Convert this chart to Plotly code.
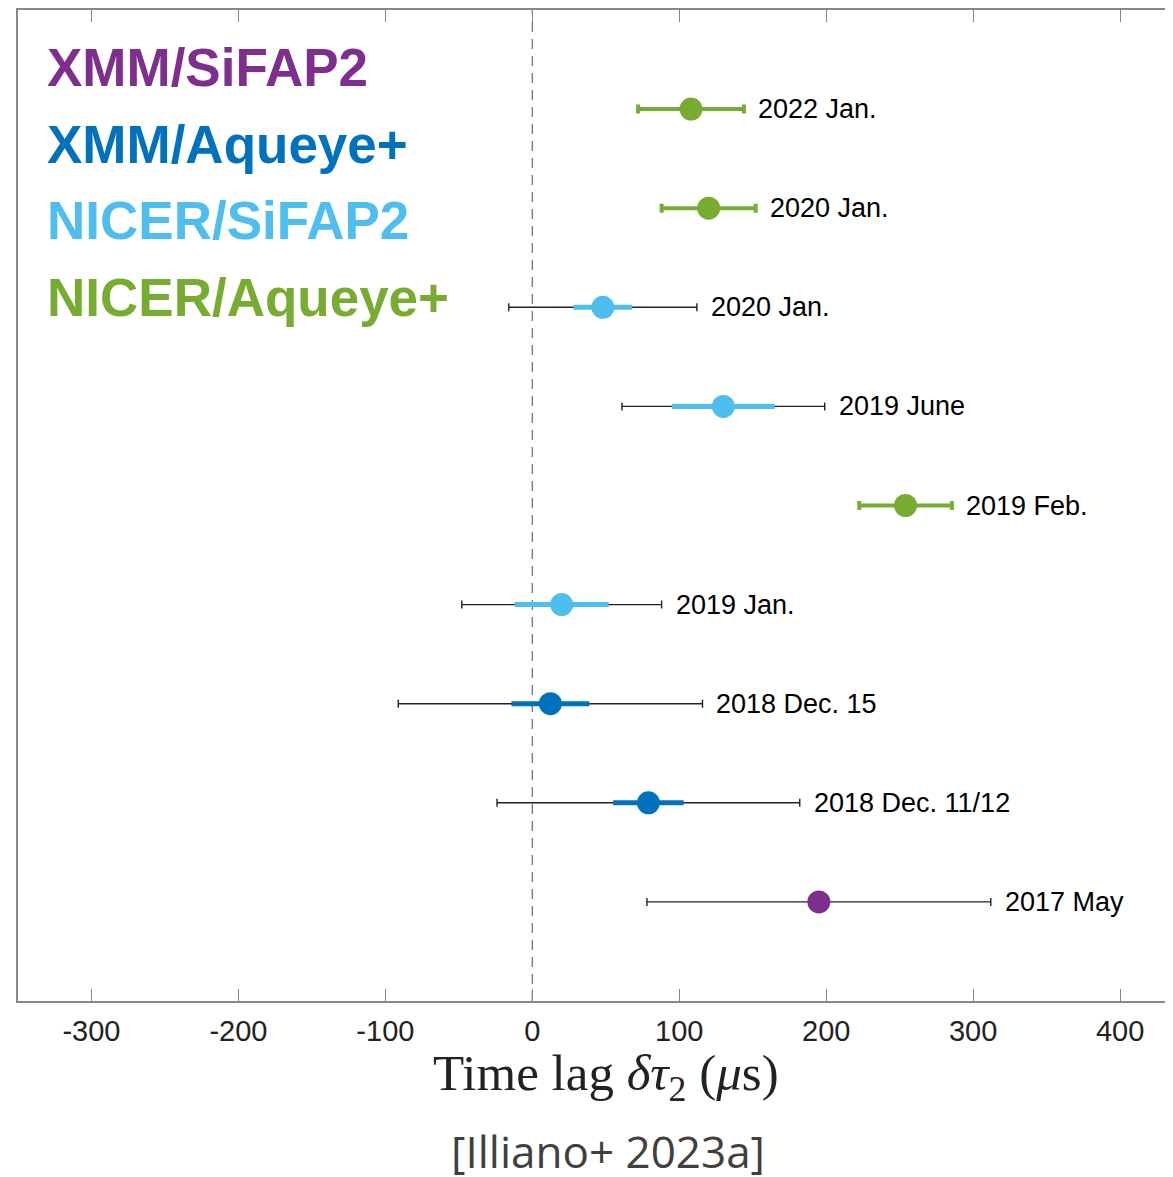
import plotly.graph_objects as go

# ---- data ----
labels = ["2017 May", "2018 Dec. 11/12", "2018 Dec. 15", "2019 Jan.", "2019 Feb.",
          "2019 June", "2020 Jan.", "2020 Jan.", "2022 Jan."]
instruments = ["XMM/SiFAP2", "XMM/Aqueye+", "XMM/Aqueye+", "NICER/SiFAP2", "NICER/Aqueye+",
               "NICER/SiFAP2", "NICER/SiFAP2", "NICER/Aqueye+", "NICER/Aqueye+"]
lag = [195, 79, 12.3, 20, 254, 130, 48, 120, 108]          # time lag (us)
err_inner = [None, 24, 26.5, 32, 31.5, 35, 20, 32, 36]      # coloured error bar
err_outer = [117, 103, 103.5, 68, None, 69, 64, None, None]  # black error bar
legend_names = ["XMM/SiFAP2", "XMM/Aqueye+", "NICER/SiFAP2", "NICER/Aqueye+"]
x_ticks = [-300, -200, -100, 0, 100, 200, 300, 400]

colors = {"XMM/SiFAP2": "#7E2F8E", "XMM/Aqueye+": "#0072BD",
          "NICER/SiFAP2": "#4DBEEE", "NICER/Aqueye+": "#77AC30"}
rows = list(range(1, len(labels) + 1))

# page has an 8px body margin; plot area spans screen x 18..1173, y 8..1001
PX0, PW, PY1, PH = 18.0, 1155.0, 1001.0, 993.0


def px(x):
    return (x - PX0) / PW


def py(y):
    return (PY1 - y) / PH


fig = go.Figure()

# black (outer) error bars
for r, x, eo in zip(rows, lag, err_outer):
    if eo is None:
        continue
    fig.add_trace(go.Scatter(
        x=[x], y=[r], mode="markers", marker=dict(size=1, opacity=0),
        error_x=dict(type="data", array=[eo], color="#222222", thickness=1.4, width=4),
        showlegend=False, hoverinfo="skip"))

# coloured (inner) error bars + markers
for r, x, ei, eo, inst in zip(rows, lag, err_inner, err_outer, instruments):
    c = colors[inst]
    if ei is not None:
        if eo is None:
            ex = dict(type="data", array=[ei], color=c, thickness=4, width=4.5)
        else:
            ex = dict(type="data", array=[ei], color=c, thickness=5, width=0)
    else:
        ex = None
    fig.add_trace(go.Scatter(
        x=[x], y=[r], mode="markers",
        marker=dict(size=23, color=c, line=dict(width=0)),
        error_x=ex, showlegend=False, hoverinfo="skip"))

# dashed zero line
fig.add_shape(type="line", x0=0, x1=0, y0=0, y1=1, xref="x", yref="paper",
              line=dict(color="#777777", width=1.3, dash="10px,7px"), layer="below")

# point labels
for r, x, ei, eo, lab in zip(rows, lag, err_inner, err_outer, labels):
    right = x + (eo if eo is not None else ei)
    fig.add_annotation(x=right, y=r, xref="x", yref="y", text=lab, showarrow=False,
                       xanchor="left", yanchor="middle", xshift=12,
                       font=dict(family="Liberation Sans, Arial", size=27, color="#000000"))

# instrument legend text
legend_px = [66, 143, 219, 296]
for name, yy in zip(legend_names, legend_px):
    fig.add_annotation(x=px(45), y=py(yy), xref="paper", yref="paper",
                       text="<b>" + name + "</b>", showarrow=False,
                       xanchor="left", yanchor="middle",
                       font=dict(family="Liberation Sans, Arial", size=53, color=colors[name]))

# axis title
fig.add_annotation(x=px(606), y=py(1077), xref="paper", yref="paper",
                   text="Time lag <i>δτ</i><sub>2</sub> (<i>μ</i>s)", showarrow=False,
                   xanchor="center", yanchor="middle",
                   font=dict(family="Liberation Serif, DejaVu Serif, serif", size=51, color="#222222"))

# citation
fig.add_annotation(x=px(608), y=py(1151), xref="paper", yref="paper",
                   text="[Illiano+ 2023a]", showarrow=False,
                   xanchor="center", yanchor="middle",
                   font=dict(family="Open Sans, Noto Sans, sans-serif", size=44, color="#404040"))

fig.update_layout(
    width=1165, height=1169, autosize=False,
    margin=dict(l=10, r=0, t=0, b=176),
    paper_bgcolor="white", plot_bgcolor="white",
    showlegend=False,
    xaxis=dict(range=[-350, 436], tickvals=x_ticks, ticktext=[str(v) for v in x_ticks],
               ticks="inside", ticklen=12, tickwidth=1.2, tickcolor="#888888",
               showline=True, linecolor="#888888", linewidth=1.5, mirror="ticks",
               showgrid=False, zeroline=False, ticklabelstandoff=3,
               tickfont=dict(family="Liberation Sans, Arial", size=29, color="#222222")),
    yaxis=dict(range=[0, 10], showticklabels=False, ticks="", showgrid=False,
               zeroline=False, showline=True, linecolor="#888888", linewidth=1.5, mirror=False),
)

fig.write_html("out.html")
